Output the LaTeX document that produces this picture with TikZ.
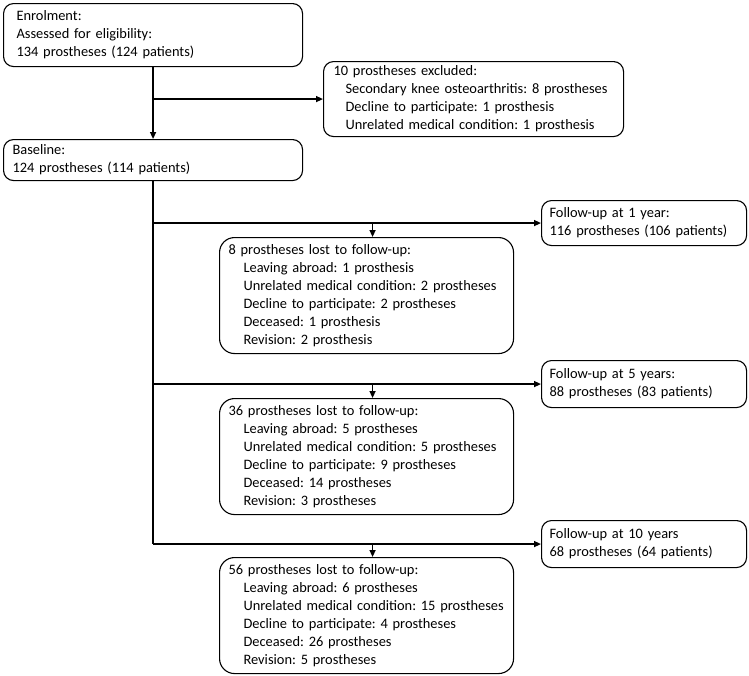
\documentclass[tikz,border=0pt]{standalone}
\usepackage{fontspec}
\setmainfont{Carlito}
\usetikzlibrary{arrows.meta}
\begin{document}
\begin{tikzpicture}[x=1pt,y=-1pt,
  box/.style={draw,line width=1.1pt,rounded corners=10pt,anchor=north west,align=left,
    font=\fontsize{14.4}{18}\selectfont\frenchspacing,inner ysep=0pt},
  lostbox/.style={box,rounded corners=15pt},
  arr/.style={line width=1.4pt,-{Triangle[length=7pt,width=6pt]}},
  ln/.style={line width=1.4pt}]
\useasboundingbox (0,0) rectangle (749,675);
\newcommand{\ind}[1]{\hspace*{#1pt}}
\node[box,minimum width=299,minimum height=63,text width=273,inner xsep=13pt] (enrol) at (3,3)
  {Enrolment:\\Assessed for eligibility:\\134 prostheses (124 patients)};
\node[box,minimum width=300,minimum height=75,text width=280,inner xsep=10pt] (exc) at (323,61)
  {10 prostheses excluded:\\\ind{12}Secondary knee osteoarthritis: 8 prostheses\\\ind{12}Decline to participate: 1 prosthesis\\\ind{12}Unrelated medical condition: 1 prosthesis};
\node[box,minimum width=299,minimum height=41,text width=281,inner xsep=9pt] (base) at (3,139)
  {Baseline:\\124 prostheses (114 patients)};
\node[box,minimum width=205,minimum height=45,text width=189,inner xsep=8pt] (fu1) at (541,200)
  {Follow-up at 1 year:\\116 prostheses (106 patients)};
\node[lostbox,minimum width=294,minimum height=116,text width=276,inner xsep=9pt] (lost1) at (219,237)
  {8 prostheses lost to follow-up:\\\ind{15}Leaving abroad: 1 prosthesis\\\ind{15}Unrelated medical condition: 2 prostheses\\\ind{15}Decline to participate: 2 prostheses\\\ind{15}Deceased: 1 prosthesis\\\ind{15}Revision: 2 prosthesis};
\node[box,minimum width=205,minimum height=47,text width=189,inner xsep=8pt] (fu5) at (541,360)
  {Follow-up at 5 years:\\88 prostheses (83 patients)};
\node[lostbox,minimum width=294,minimum height=116,text width=276,inner xsep=9pt] (lost2) at (219,398)
  {36 prostheses lost to follow-up:\\\ind{15}Leaving abroad: 5 prostheses\\\ind{15}Unrelated medical condition: 5 prostheses\\\ind{15}Decline to participate: 9 prostheses\\\ind{15}Deceased: 14 prostheses\\\ind{15}Revision: 3 prostheses};
\node[box,minimum width=205,minimum height=47,text width=189,inner xsep=8pt] (fu10) at (541,520)
  {Follow-up at 10 years\\68 prostheses (64 patients)};
\node[lostbox,minimum width=294,minimum height=116,text width=276,inner xsep=9pt] (lost3) at (219,557)
  {56 prostheses lost to follow-up:\\\ind{15}Leaving abroad: 6 prostheses\\\ind{15}Unrelated medical condition: 15 prostheses\\\ind{15}Decline to participate: 4 prostheses\\\ind{15}Deceased: 26 prostheses\\\ind{15}Revision: 5 prostheses};
% connectors
\draw[arr] (enrol.south) -- (base.north);
\draw[arr] (enrol.south |- exc.west) -- (exc.west);
\draw[ln] (base.south) -- (base.south |- fu10.west);
\draw[arr] (base.south |- fu1.west) -- (fu1.west);
\draw[arr] (base.south |- fu5.west) -- (fu5.west);
\draw[arr] (base.south |- fu10.west) -- (fu10.west);
\coordinate (c1) at ([xshift=6pt]lost1.north);
\coordinate (c2) at ([xshift=6pt]lost2.north);
\coordinate (c3) at ([xshift=6pt]lost3.north);
\draw[arr] (c1 |- fu1.west) -- (c1);
\draw[arr] (c2 |- fu5.west) -- (c2);
\draw[arr] (c3 |- fu10.west) -- (c3);
\end{tikzpicture}
\end{document}
